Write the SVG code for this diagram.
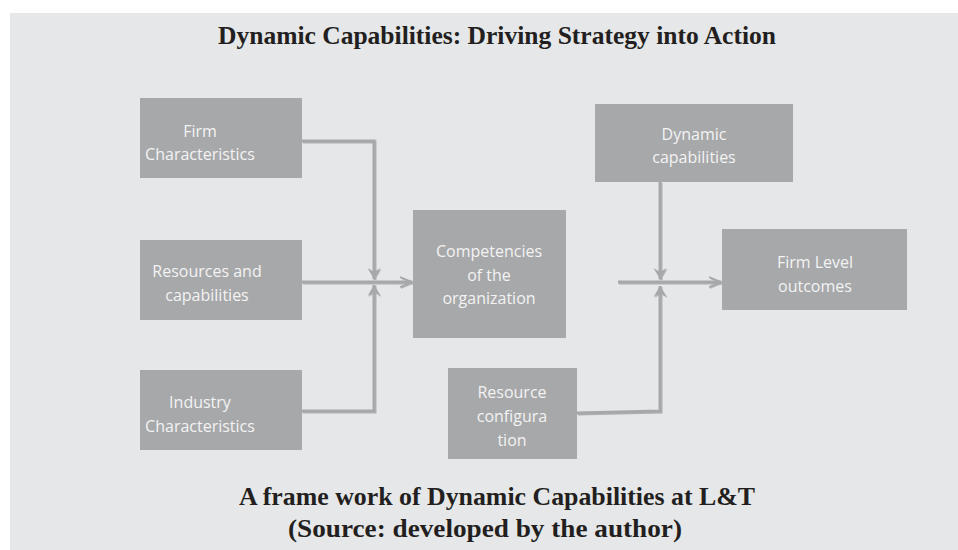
<svg xmlns="http://www.w3.org/2000/svg" width="958" height="550" viewBox="0 0 958 550">
  <defs>
    <style>
      .panel { fill: #e6e7e8; }
      .box { fill: #a7a8aa; }
      .label { font-family: "Open Sans", "Liberation Sans", sans-serif; font-size: 16px; fill: #f3f3f3; text-anchor: middle; }
      .heading { font-family: "Liberation Serif", "DejaVu Serif", serif; font-weight: bold; font-size: 24.5px; fill: #231f20; text-anchor: middle; }
      .wire { fill: none; stroke: #a7a8aa; stroke-width: 3; }
      .head { fill: #a7a8aa; }
      .chev { fill: none; stroke: #a7a8aa; stroke-width: 1.6; }
    </style>
    <filter id="soft" x="-10%" y="-10%" width="120%" height="120%">
      <feDropShadow dx="1" dy="1" stdDeviation="0.4" flood-color="#8a8b8d" flood-opacity="0.6"/>
    </filter>
    <marker id="stealth" markerUnits="userSpaceOnUse" viewBox="-12 -7 13 14" markerWidth="13" markerHeight="14" refX="0" refY="0" orient="auto">
      <path class="head" d="M0,0 L-11,-6.5 L-7,0 L-11,6.5 Z"/>
    </marker>
    <marker id="open" markerUnits="userSpaceOnUse" viewBox="-13 -7 14 14" markerWidth="14" markerHeight="14" refX="0" refY="0" orient="auto">
      <path class="chev" d="M-12,-5 L0,0 L-12,5"/>
    </marker>
  </defs>

  <rect class="panel" x="10" y="13" width="948" height="537"/>

  <text class="heading" x="497" y="44" textLength="558" lengthAdjust="spacingAndGlyphs">Dynamic Capabilities: Driving Strategy into Action</text>

  <!-- connectors -->
  <g id="connectors" filter="url(#soft)">
    <polyline class="wire" points="302,141 374,141 374,279" marker-end="url(#stealth)"/>
    <polyline class="wire" points="302,411 374,411 374,285" marker-end="url(#stealth)"/>
    <line class="wire" x1="302" y1="282" x2="412" y2="282" marker-end="url(#open)"/>
    <line class="wire" x1="660" y1="182" x2="660" y2="279" marker-end="url(#stealth)"/>
    <polyline class="wire" points="577,413 660,411 660,286" marker-end="url(#stealth)"/>
    <line class="wire" x1="618" y1="282" x2="721" y2="282" marker-end="url(#open)"/>
  </g>

  <g id="firm-characteristics">
    <rect class="box" x="140" y="98" width="162" height="80"/>
    <text class="label" x="200" y="137">Firm</text>
    <text class="label" x="200" y="160">Characteristics</text>
  </g>

  <g id="resources-capabilities">
    <rect class="box" x="140" y="240" width="162" height="80"/>
    <text class="label" x="207" y="277">Resources and</text>
    <text class="label" x="207" y="301">capabilities</text>
  </g>

  <g id="industry-characteristics">
    <rect class="box" x="140" y="370" width="162" height="80"/>
    <text class="label" x="200" y="408">Industry</text>
    <text class="label" x="200" y="432">Characteristics</text>
  </g>

  <g id="competencies">
    <rect class="box" x="413" y="210" width="153" height="128"/>
    <text class="label" x="489" y="257">Competencies</text>
    <text class="label" x="489" y="281">of the</text>
    <text class="label" x="489" y="304">organization</text>
  </g>

  <g id="dynamic-capabilities">
    <rect class="box" x="595" y="104" width="198" height="78"/>
    <text class="label" x="694" y="140">Dynamic</text>
    <text class="label" x="694" y="163">capabilities</text>
  </g>

  <g id="firm-level-outcomes">
    <rect class="box" x="722" y="229" width="185" height="81"/>
    <text class="label" x="815" y="268">Firm Level</text>
    <text class="label" x="815" y="292">outcomes</text>
  </g>

  <g id="resource-configuration">
    <rect class="box" x="448" y="368" width="129" height="91"/>
    <text class="label" x="512" y="398">Resource</text>
    <text class="label" x="512" y="422">configura</text>
    <text class="label" x="512" y="446">tion</text>
  </g>

  <text class="heading" x="497" y="505" textLength="516" lengthAdjust="spacingAndGlyphs">A frame work of Dynamic Capabilities at L&amp;T</text>
  <text class="heading" x="485" y="537" textLength="394" lengthAdjust="spacingAndGlyphs">(Source: developed by the author)</text>
</svg>
